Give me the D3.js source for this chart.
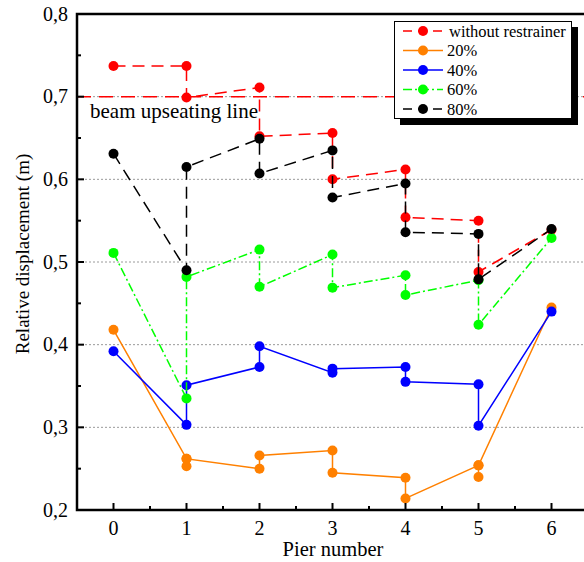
<!DOCTYPE html>
<html>
<head>
<meta charset="utf-8">
<script src="https://cdn.jsdelivr.net/npm/d3@7"></script>
</head>
<body style="margin:0">
<div id="chart"></div>
<script>
// Pier numbers along the bridge
const piers = [0, 1, 2, 3, 4, 5, 6];
const yTickValues = [0.2, 0.3, 0.4, 0.5, 0.6, 0.7, 0.8];
const gridValues = [0.3, 0.4, 0.5, 0.6, 0.7];
const upseatingLimit = 0.7;

// Relative displacement (m) per pier; two values at a pier are joined vertically,
// points listed in the order the polyline visits them.
const withoutRestrainer = [[0,0.737],[1,0.737],[1,0.699],[2,0.711],[2,0.652],[3,0.656],[3,0.600],[4,0.612],[4,0.554],[5,0.550],[5,0.488],[6,0.539]];
const restrainer20 = [[0,0.418],[1,0.262],[1,0.253],[1,0.262],[2,0.250],[2,0.266],[3,0.272],[3,0.245],[4,0.239],[4,0.214],[5,0.254],[5,0.240],[5,0.254],[6,0.445]];
const restrainer40 = [[0,0.392],[1,0.303],[1,0.351],[2,0.373],[2,0.398],[3,0.366],[3,0.371],[4,0.373],[4,0.355],[5,0.352],[5,0.302],[6,0.440]];
const restrainer60 = [[0,0.511],[1,0.335],[1,0.482],[2,0.515],[2,0.470],[3,0.509],[3,0.469],[4,0.484],[4,0.460],[5,0.478],[5,0.424],[6,0.529]];
const restrainer80 = [[0,0.631],[1,0.490],[1,0.615],[2,0.649],[2,0.607],[3,0.635],[3,0.578],[4,0.595],[4,0.536],[5,0.534],[5,0.479],[6,0.540]];

const seriesNames = ["without restrainer", "20%", "40%", "60%", "80%"];
const seriesData = [withoutRestrainer, restrainer20, restrainer40, restrainer60, restrainer80];
const seriesColors = ["#ff0000", "#ff8000", "#0000ff", "#00ff00", "#000000"];
const seriesDash = ["12,7", null, null, "9,3,2,3", "12,7"];

const SERIF = "Liberation Serif";
const W = 584, H = 562;
const svg = d3.select("#chart").append("svg")
  .attr("width", W).attr("height", H)
  .style("display", "block");

const x = d3.scaleLinear().domain([-0.5, 6.5]).range([77, 588]);
const y = d3.scaleLinear().domain([0.2, 0.8]).range([510, 14]);
const fmt = v => d3.format(".1f")(v).replace(".", ",");

// Dotted grid lines
svg.append("g").selectAll("line").data(gridValues).join("line")
  .attr("x1", x(-0.5)).attr("x2", x(6.5))
  .attr("y1", d => y(d)).attr("y2", d => y(d))
  .attr("stroke", "#9a9a9a").attr("stroke-width", 1)
  .attr("stroke-dasharray", "2,2");

// Beam upseating line
svg.append("line")
  .attr("x1", x(-0.5)).attr("x2", x(6.5))
  .attr("y1", y(upseatingLimit)).attr("y2", y(upseatingLimit))
  .attr("stroke", "#ff0000").attr("stroke-width", 1.5)
  .attr("stroke-dasharray", "14,8");

// Series polylines and markers
const line = d3.line().x(d => x(d[0])).y(d => y(d[1]));
seriesData.forEach((data, i) => {
  const g = svg.append("g");
  g.append("path")
    .attr("d", line(data))
    .attr("fill", "none")
    .attr("stroke", seriesColors[i])
    .attr("stroke-width", 1.5)
    .attr("stroke-dasharray", seriesDash[i]);
  g.selectAll("circle").data(data).join("circle")
    .attr("cx", d => x(d[0])).attr("cy", d => y(d[1]))
    .attr("r", 5).attr("fill", seriesColors[i]);
});

// Inward tick marks: majors at piers / tenths, minors halfway between
const xMinor = d3.range(-0.5, 6.51, 1);
const yMinor = d3.range(0.25, 0.8, 0.1);
const ticks = svg.append("g").attr("stroke", "#000").attr("stroke-width", 2);
ticks.selectAll(".xt").data(piers.map(d => [d, 7]).concat(xMinor.map(d => [d, 4]))).join("line")
  .attr("x1", d => x(d[0])).attr("x2", d => x(d[0]))
  .attr("y1", y(0.2)).attr("y2", d => y(0.2) - d[1]);
ticks.selectAll(".yt").data(yTickValues.map(d => [d, 7]).concat(yMinor.map(d => [d, 4]))).join("line")
  .attr("x1", x(-0.5)).attr("x2", d => x(-0.5) + d[1])
  .attr("y1", d => y(d[0])).attr("y2", d => y(d[0]));

// Frame
svg.append("rect")
  .attr("x", x(-0.5)).attr("y", y(0.8))
  .attr("width", x(6.5) - x(-0.5)).attr("height", y(0.2) - y(0.8))
  .attr("fill", "none").attr("stroke", "#000").attr("stroke-width", 2.5);

// Tick labels
svg.append("g").selectAll("text").data(piers).join("text")
  .attr("x", d => x(d)).attr("y", 535)
  .attr("text-anchor", "middle")
  .attr("font-size", 20)
  .attr("font-family", SERIF)
  .text(d => d);
svg.append("g").selectAll("text").data(yTickValues).join("text")
  .attr("x", 68).attr("y", d => y(d) + 6.5)
  .attr("text-anchor", "end")
  .attr("font-size", 20)
  .attr("font-family", SERIF)
  .text(d => fmt(d));

svg.append("text")
  .attr("x", 90).attr("y", 118)
  .attr("font-size", 21)
  .attr("font-family", SERIF)
  .text("beam upseating line");

// Axis titles
svg.append("text")
  .attr("x", 333).attr("y", 556)
  .attr("text-anchor", "middle").attr("font-size", 20.5)
  .attr("font-family", SERIF)
  .text("Pier number");
svg.append("text")
  .attr("transform", "translate(29,254) rotate(-90)")
  .attr("text-anchor", "middle").attr("font-size", 19)
  .attr("font-family", SERIF)
  .text("Relative displacement (m)");

// Legend with drop shadow
const lg = svg.append("g");
lg.append("rect").attr("x", 400).attr("y", 27).attr("width", 178).attr("height", 98).attr("fill", "#000");
lg.append("rect").attr("x", 394.5).attr("y", 21.5).attr("width", 177).attr("height", 97)
  .attr("fill", "#fff").attr("stroke", "#000").attr("stroke-width", 1);
seriesNames.forEach((name, i) => {
  const ly = 31 + i * 19.5;
  lg.append("line").attr("x1", 403).attr("x2", 443).attr("y1", ly).attr("y2", ly)
    .attr("stroke", seriesColors[i]).attr("stroke-width", 1.5)
    .attr("stroke-dasharray", seriesDash[i] ? (i === 3 ? "9,3,2,3" : "9,6") : null);
  lg.append("circle").attr("cx", 423).attr("cy", ly).attr("r", 5).attr("fill", seriesColors[i]);
  lg.append("text").attr("x", i === 0 ? 449 : 447).attr("y", ly + 5.5)
    .attr("font-size", 16.5).attr("font-family", SERIF).text(name);
});
</script>
</body>
</html>
